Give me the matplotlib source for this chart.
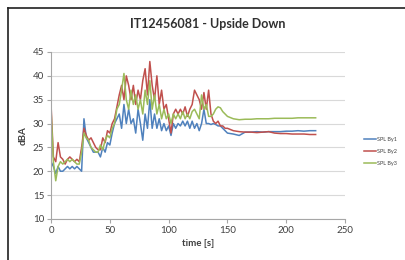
import matplotlib
matplotlib.use("Agg")
import matplotlib.pyplot as plt
from matplotlib.lines import Line2D

plt.rcParams['font.family'] = ['Lato', 'DejaVu Sans']

time = [0, 2, 4, 6, 8, 10, 12, 14, 16, 18, 20, 22, 24, 26, 28, 30, 32, 34, 36, 38,
        40, 42, 44, 46, 48, 50, 52, 54, 56, 58, 60, 62, 64, 66, 68, 70, 72, 74, 76, 78,
        80, 82, 84, 86, 88, 90, 92, 94, 96, 98, 100, 102, 104, 106, 108, 110, 112, 114, 116, 118,
        120, 122, 124, 126, 128, 130, 132, 134, 136, 138, 140, 142, 144, 146, 148, 150,
        155, 160, 165, 170, 175, 180, 185, 190, 195, 200, 205, 210, 215, 220, 225]

spl_by1 = [22, 21, 19.5, 21, 20, 20, 20.5, 21, 20.5, 21, 20.5, 21, 20.5, 20, 31, 27, 26, 25, 24, 24,
           24, 23, 25, 24, 26, 25.5, 28, 30, 31, 32, 29, 34, 30, 33, 30, 31, 28, 33, 30, 26.5,
           32, 29, 35, 29, 32, 29, 31, 28.5, 30, 28.5, 29.5, 27.5, 30, 29, 30, 29.5, 30.5, 29.5, 30.5, 29,
           30.5, 29, 30, 28.5, 30, 33, 30, 30, 29.8, 30, 29.8, 29.5, 29.5, 29, 28.5, 28,
           27.8, 27.5, 28.2, 28.2, 28.3, 28.2, 28.3, 28.3, 28.3, 28.4, 28.4, 28.5, 28.4, 28.5, 28.5]

spl_by2 = [34, 23, 22, 26, 23, 22.5, 21.5, 22.5, 23, 22.5, 22, 22.5, 22, 25, 29, 27.5, 26.5, 27, 26, 25,
           24.5, 24.5, 27, 26, 28.5, 28, 30, 31, 33.5, 36, 38, 35, 40, 38, 35, 38, 34, 37, 35, 39,
           41.5, 36, 43, 38, 35, 40, 34, 37, 33, 34, 31, 28, 32, 33, 32, 33, 32, 33.5, 31.5, 33,
           34, 37, 36, 35, 33, 36.5, 33, 37, 32, 30.5, 30, 30.5, 29.5, 29.5, 29, 29,
           28.5, 28.3, 28.2, 28.2, 28.1, 28.2, 28.3, 28, 27.9, 27.9, 27.8, 27.8, 27.8, 27.7, 27.7]

spl_by3 = [33, 22, 18, 21, 22, 21.5, 22, 22.5, 22, 22.5, 22, 21.5, 21.5, 24, 28, 27, 26.5, 25, 24.5, 24,
           24, 25.5, 24.5, 26.5, 27.5, 27, 29, 30, 33, 34, 37, 40.5, 35, 33, 37, 34, 36, 33, 35, 32,
           37, 34, 39, 33, 36, 32, 34, 31, 33, 31, 32, 30, 32, 31, 32, 31, 32.5, 31, 32, 31,
           32.5, 33, 32, 31, 36, 33, 34, 31.5, 31.5, 32, 33, 33.5, 33.3, 32.5, 32, 31.5,
           31, 30.8, 30.9, 30.9, 31, 31, 31, 31.1, 31.1, 31.1, 31.1, 31.2, 31.2, 31.2, 31.2]

series_names = ['SPL By1', 'SPL By2', 'SPL By3']
colors = ['#4F81BD', '#C0504D', '#9BBB59']
title = 'IT12456081 - Upside Down'

fig = plt.figure(figsize=(4.05, 2.6), dpi=100)
ax = fig.add_axes([0.126, 0.158, 0.726, 0.642])

for vals, name, c in zip([spl_by1, spl_by2, spl_by3], series_names, colors):
    ax.plot(time, vals, color=c, lw=1.1, label=name)

ax.set_xlim(0, 250)
ax.set_ylim(10, 45)
ax.set_xticks([0, 50, 100, 150, 200, 250])
ax.set_yticks([10, 15, 20, 25, 30, 35, 40, 45])
ax.grid(axis='y', color='#D9D9D9', lw=0.8)
ax.set_axisbelow(True)
for s in ['top', 'right']:
    ax.spines[s].set_visible(False)
for s in ['left', 'bottom']:
    ax.spines[s].set_color('#A6A6A6')
    ax.spines[s].set_linewidth(0.8)
ax.tick_params(axis='both', labelsize=7, colors='#A6A6A6', labelcolor='#404040',
               length=3, width=0.8, pad=2)
ax.set_xlabel('time [s]', fontsize=7, fontweight='bold', color='#404040', labelpad=3)
ax.set_ylabel('dBA', fontsize=7, fontweight='bold', color='#404040', labelpad=4)
fig.text(0.513, 0.908, title, ha='center', va='center', fontsize=9,
         fontweight='bold', color='#303030')

handles, labels = ax.get_legend_handles_labels()
fig.legend(handles, labels, loc='center left', bbox_to_anchor=(0.893, 0.417),
           frameon=False, fontsize=4, handlelength=2.2, handletextpad=0.2,
           labelspacing=1.2, borderaxespad=0, labelcolor='#404040')

fig.add_artist(Line2D([7.5 / 405, 7.5 / 405], [0, 1 - 8 / 260], transform=fig.transFigure,
                      color='#202020', lw=1.2))
fig.add_artist(Line2D([7.5 / 405, 1], [1 - 8 / 260, 1 - 8 / 260], transform=fig.transFigure,
                      color='#202020', lw=1.2))

fig.savefig('out.png', dpi=100)
